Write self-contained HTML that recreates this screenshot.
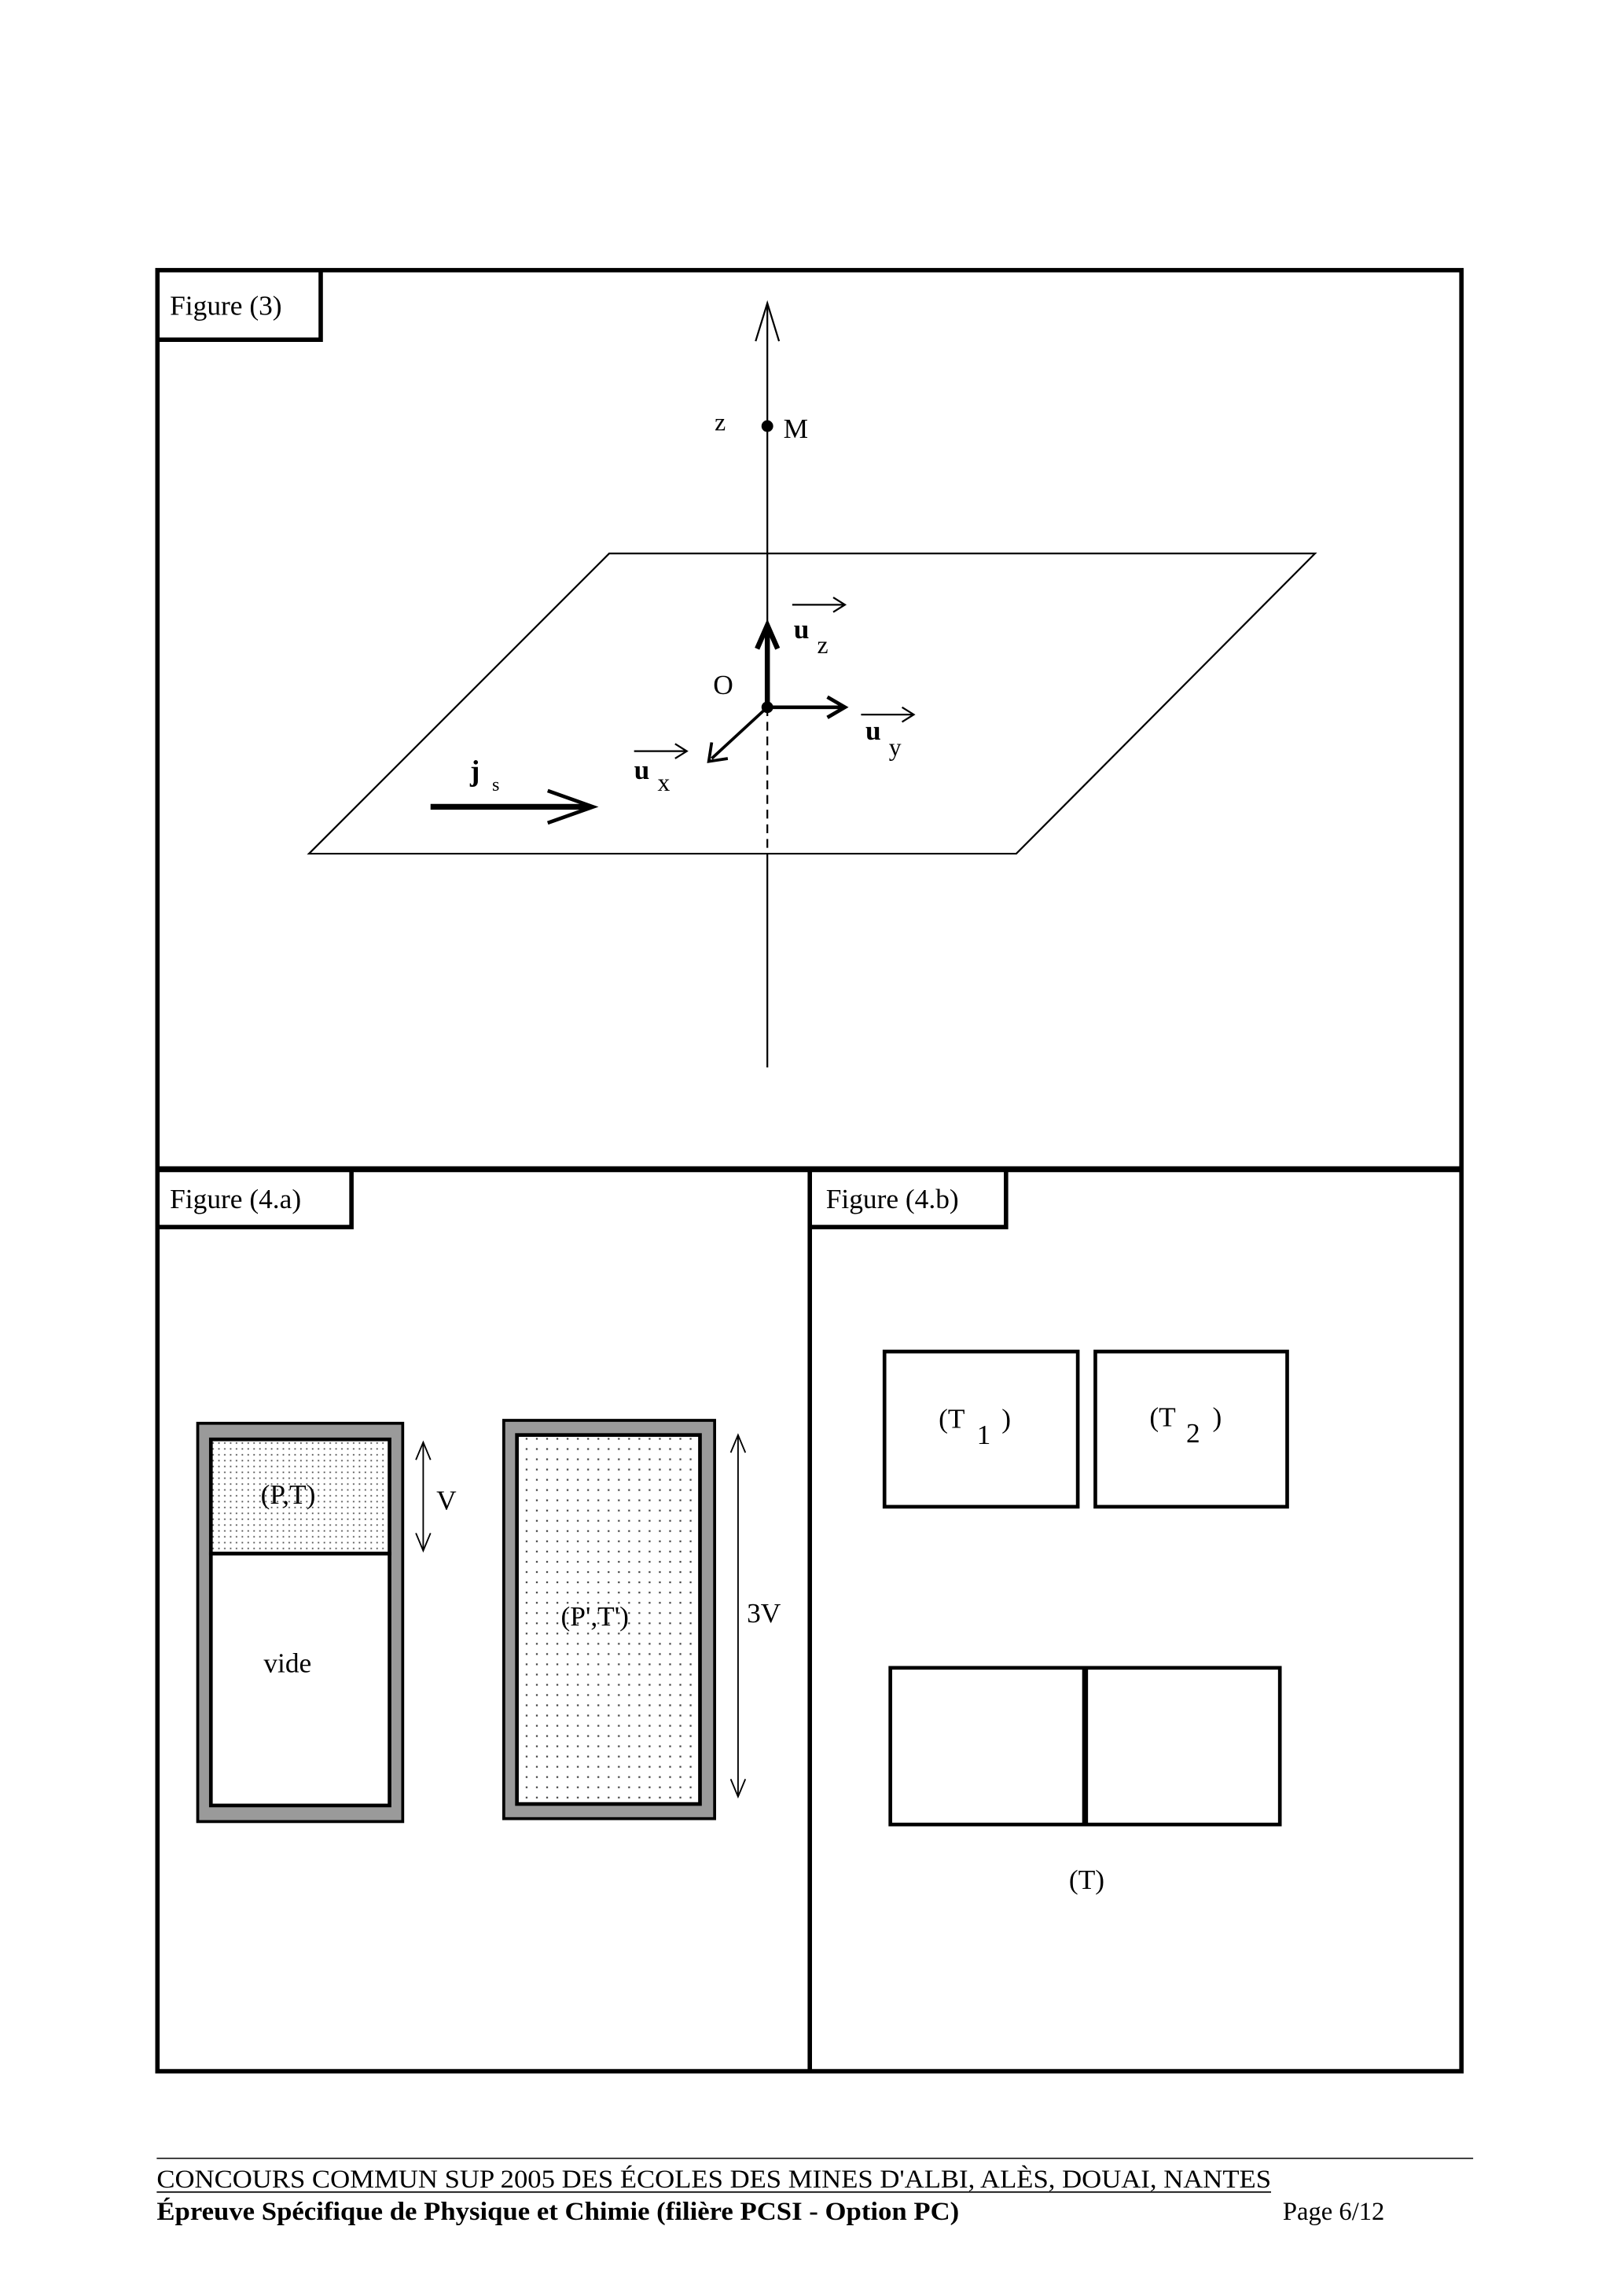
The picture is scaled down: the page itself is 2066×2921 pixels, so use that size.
<!DOCTYPE html>
<html><head><meta charset="utf-8"><style>
html,body{margin:0;padding:0;background:#fff;}
svg{display:block;}
text{font-family:"Liberation Serif",serif;fill:#000;}
</style></head><body>
<svg width="2066" height="2921" viewBox="0 0 1109 1568" xmlns="http://www.w3.org/2000/svg">
<defs>
<pattern id="dots" width="4" height="4" patternUnits="userSpaceOnUse"><rect width="4" height="4" fill="#fff"/><rect x="1" y="1" width="1" height="1" fill="#555"/></pattern>
<pattern id="dots2" width="7" height="7" patternUnits="userSpaceOnUse"><rect width="7" height="7" fill="#fff"/><rect x="2" y="2" width="1.2" height="1.2" fill="#444"/></pattern>
</defs>
<rect width="1109" height="1568" fill="#fff"/>
<rect x="107.5" y="184.5" width="890.5" height="1230" fill="none" stroke="#000" stroke-width="3"/>
<line x1="107" y1="798.5" x2="998" y2="798.5" stroke="#000" stroke-width="4"/>
<line x1="553" y1="799" x2="553" y2="1415" stroke="#000" stroke-width="3"/>
<path d="M107 232 H219 V184" fill="none" stroke="#000" stroke-width="3"/>
<path d="M107 838 H240 V800" fill="none" stroke="#000" stroke-width="3"/>
<path d="M553 838 H687 V800" fill="none" stroke="#000" stroke-width="3"/>
<text x="116" y="215" font-size="19">Figure (3)</text>
<text x="116" y="825" font-size="19">Figure (4.a)</text>
<text x="564" y="825" font-size="19">Figure (4.b)</text>
<polygon points="416,378 898,378 694,583 211,583" fill="none" stroke="#000" stroke-width="1.2"/>
<line x1="524" y1="207" x2="524" y2="483" stroke="#000" stroke-width="1.2"/>
<line x1="524" y1="483" x2="524" y2="583" stroke="#000" stroke-width="1.2" stroke-dasharray="6,4"/>
<line x1="524" y1="583" x2="524" y2="729" stroke="#000" stroke-width="1.2"/>
<polyline points="516,233 524,207 532,233" fill="none" stroke="#000" stroke-width="1.2"/>
<circle cx="524" cy="291" r="4" fill="#000"/>
<text x="488" y="294" font-size="17">z</text>
<text x="535" y="299" font-size="19">M</text>
<line x1="524" y1="483" x2="524" y2="431" stroke="#000" stroke-width="3.5"/>
<polyline points="517,443 524,427 531,443" fill="none" stroke="#000" stroke-width="3.5"/>
<line x1="524" y1="483" x2="575" y2="483" stroke="#000" stroke-width="2.5"/>
<polyline points="565,476 577,483 565,490" fill="none" stroke="#000" stroke-width="2.5"/>
<line x1="524" y1="483" x2="486" y2="518" stroke="#000" stroke-width="2"/>
<polyline points="486,507 484,520 497,518" fill="none" stroke="#000" stroke-width="2"/>
<circle cx="524" cy="483" r="4" fill="#000"/>
<text x="487" y="474" font-size="19">O</text>
<line x1="294" y1="551" x2="403" y2="551" stroke="#000" stroke-width="4"/>
<polyline points="374,540 405,551 374,562" fill="none" stroke="#000" stroke-width="2.5"/>
<text x="321" y="533" font-size="20" font-weight="bold">j</text>
<text x="336" y="540" font-size="13">s</text>
<g stroke="#000" stroke-width="1.2" fill="none">
<line x1="541" y1="413" x2="577" y2="413"/><polyline points="569,408 577,413 569,418"/>
<line x1="588" y1="488" x2="624" y2="488"/><polyline points="616,483 624,488 616,493"/>
<line x1="433" y1="513" x2="469" y2="513"/><polyline points="461,508 469,513 461,518"/>
</g>
<text x="542" y="436" font-size="19" font-weight="bold">u</text><text x="558" y="446" font-size="17">z</text>
<text x="591" y="505" font-size="19" font-weight="bold">u</text><text x="607" y="516" font-size="17">y</text>
<text x="433" y="532" font-size="19" font-weight="bold">u</text><text x="449" y="540" font-size="17">x</text>
<rect x="135" y="972" width="140" height="272" fill="#9a9a9a" stroke="#000" stroke-width="2"/>
<rect x="144" y="983" width="122" height="78" fill="url(#dots)" stroke="#000" stroke-width="2.5"/>
<rect x="144" y="1061" width="122" height="172" fill="#fff" stroke="#000" stroke-width="2.5"/>
<text x="178" y="1027" font-size="19">(P,T)</text>
<text x="180" y="1142" font-size="19">vide</text>
<line x1="289" y1="986" x2="289" y2="1058" stroke="#000" stroke-width="1"/>
<polyline points="284,997 289,985 294,997" fill="none" stroke="#000" stroke-width="1"/>
<polyline points="284,1047 289,1059 294,1047" fill="none" stroke="#000" stroke-width="1"/>
<text x="298" y="1031" font-size="19">V</text>
<rect x="344" y="970" width="144" height="272" fill="#9a9a9a" stroke="#000" stroke-width="2"/>
<rect x="353" y="980" width="125" height="252" fill="url(#dots2)" stroke="#000" stroke-width="2.5"/>
<text x="383" y="1110" font-size="19">(P',T')</text>
<line x1="504" y1="981" x2="504" y2="1226" stroke="#000" stroke-width="1"/>
<polyline points="499,992 504,980 509,992" fill="none" stroke="#000" stroke-width="1"/>
<polyline points="499,1215 504,1227 509,1215" fill="none" stroke="#000" stroke-width="1"/>
<text x="510" y="1108" font-size="19">3V</text>
<rect x="604" y="923" width="132" height="106" fill="none" stroke="#000" stroke-width="2.5"/>
<rect x="748" y="923" width="131" height="106" fill="none" stroke="#000" stroke-width="2.5"/>
<text x="641" y="975" font-size="19">(T</text><text x="667" y="986" font-size="19">1</text><text x="684" y="975" font-size="19">)</text>
<text x="785" y="974" font-size="19">(T</text><text x="810" y="985" font-size="19">2</text><text x="828" y="974" font-size="19">)</text>
<rect x="608" y="1139" width="266" height="107" fill="none" stroke="#000" stroke-width="2.5"/>
<line x1="741" y1="1139" x2="741" y2="1246" stroke="#000" stroke-width="4"/>
<text x="730" y="1290" font-size="19">(T)</text>
<line x1="107" y1="1474" x2="1006" y2="1474" stroke="#000" stroke-width="0.8"/>
<text x="107" y="1494" font-size="17.5" textLength="761" lengthAdjust="spacingAndGlyphs">CONCOURS COMMUN SUP 2005 DES ÉCOLES DES MINES D'ALBI, ALÈS, DOUAI, NANTES</text>
<line x1="107" y1="1497" x2="868" y2="1497" stroke="#000" stroke-width="0.9"/>
<text x="107" y="1516" font-size="17.5" font-weight="bold" textLength="548" lengthAdjust="spacingAndGlyphs">Épreuve Spécifique de Physique et Chimie (filière PCSI - Option PC)</text>
<text x="876" y="1516" font-size="17.5">Page 6/12</text>
</svg>
</body></html>
